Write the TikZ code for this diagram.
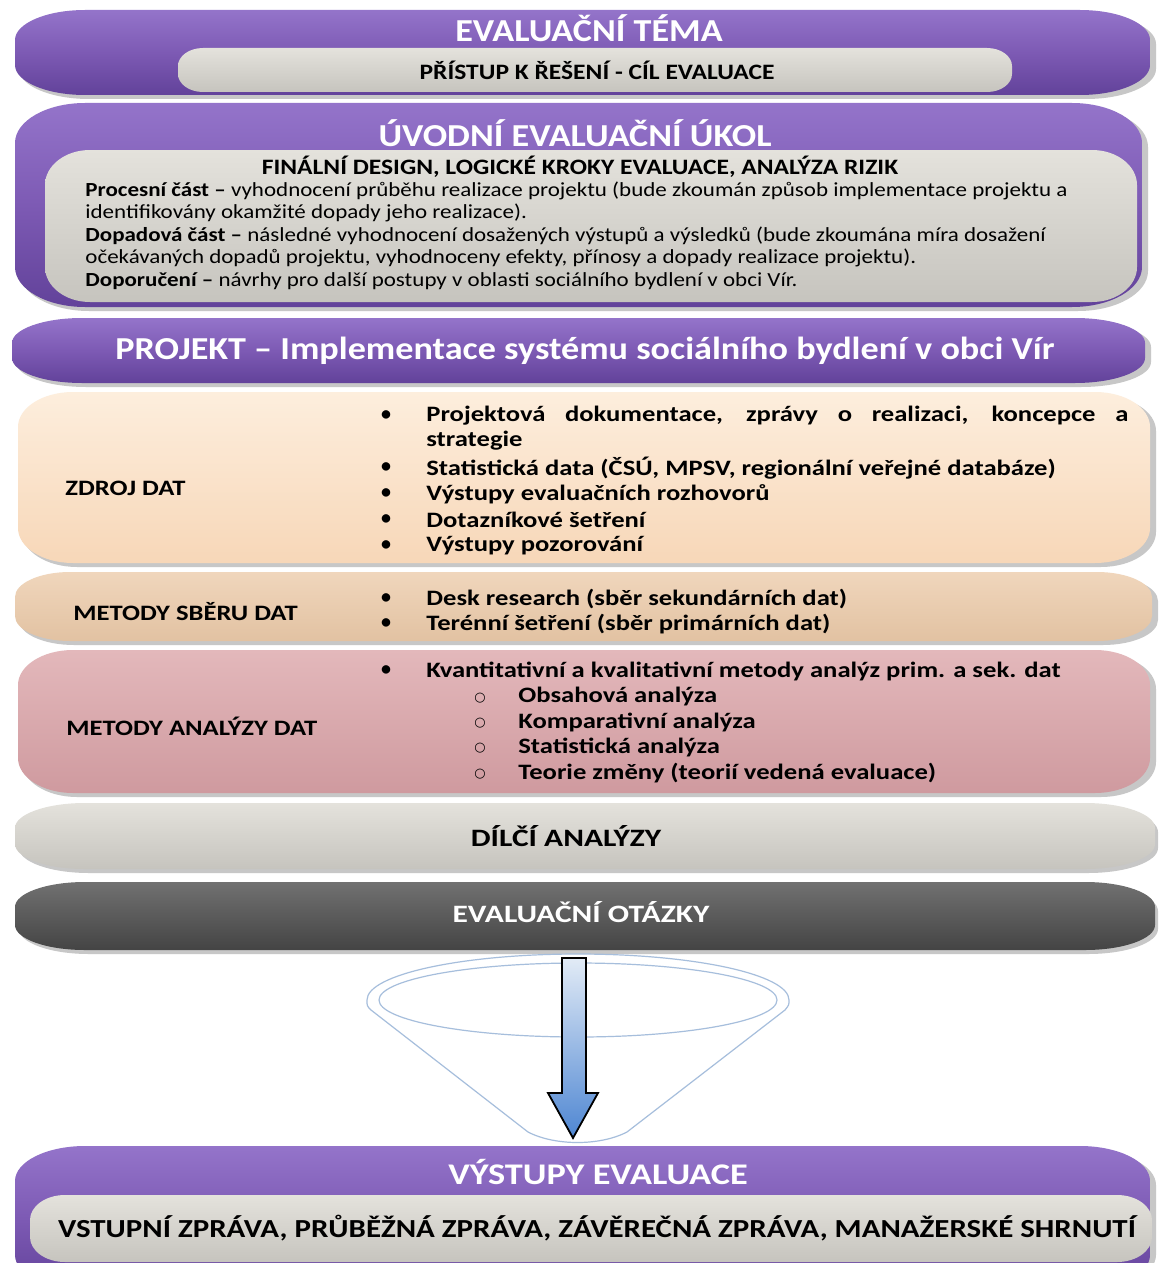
\documentclass[tikz,border=0pt]{standalone}
\usepackage{fontspec}
\setmainfont{Carlito}
\newfontfamily\symfont{DejaVu Sans}
\newfontfamily\sA{Carlito}[FakeStretch=1.13]
\newfontfamily\sAb{Carlito}[FakeStretch=1.15]
\newfontfamily\sB{Carlito}[FakeStretch=1.16]
\newfontfamily\sE{Carlito}[FakeStretch=1.19]
\newfontfamily\sC{Carlito}[FakeStretch=1.21]
\newfontfamily\sD{Carlito}[FakeStretch=1.26]
\usetikzlibrary{calc}
\definecolor{purpTop}{HTML}{9474CA}
\definecolor{purpMid}{HTML}{7D5AB4}
\definecolor{purpBot}{HTML}{62429A}
\definecolor{grayTop}{HTML}{E4E2DC}
\definecolor{grayBot}{HTML}{C6C4BE}
\definecolor{peachTop}{HTML}{FDEEDD}
\definecolor{peachBot}{HTML}{F7D7B8}
\definecolor{tanTop}{HTML}{F0D6BC}
\definecolor{tanBot}{HTML}{E2C2A2}
\definecolor{pinkTop}{HTML}{E3B8BB}
\definecolor{pinkBot}{HTML}{CF9A9F}
\definecolor{dgTop}{HTML}{717171}
\definecolor{dgBot}{HTML}{444444}
\definecolor{funnel}{HTML}{A6BEDC}
\definecolor{arrTop}{HTML}{E2EBF6}
\definecolor{arrBot}{HTML}{4E86D2}
% x1 y1 x2 y2 rx ry options  (pixels, y downwards)
\newcommand\drawband[7]{%
  \path[#7] ({#1+#5},{-#2}) -- ({#3-#5},{-#2})
    arc[start angle=90,end angle=0,x radius={#5*0.5pt},y radius={#6*0.5pt}]
    -- ({#3},{-#4+#6})
    arc[start angle=0,end angle=-90,x radius={#5*0.5pt},y radius={#6*0.5pt}]
    -- ({#1+#5},{-#4})
    arc[start angle=270,end angle=180,x radius={#5*0.5pt},y radius={#6*0.5pt}]
    -- ({#1},{-#2-#6})
    arc[start angle=180,end angle=90,x radius={#5*0.5pt},y radius={#6*0.5pt}]
    -- cycle;}
\tikzset{
  shadowfill/.style={fill=black!22},
  purpband/.style={top color=purpTop, bottom color=purpBot, middle color=purpMid},
  grayband/.style={top color=grayTop, bottom color=grayBot},
  wtitle/.style={text=white, font=\sA\bfseries\fontsize{16}{18}\selectfont, inner sep=0pt},
  btitle/.style={text=black, font=\sB\bfseries\fontsize{11}{13}\selectfont, inner sep=0pt},
  body/.style={text=black, font=\sAb\fontsize{10}{12}\selectfont, anchor=west, inner sep=0pt},
  lbl/.style={text=black, font=\sC\bfseries\fontsize{11}{13}\selectfont, anchor=west, inner sep=0pt},
  bul/.style={text=black, font=\sC\bfseries\fontsize{11}{13}\selectfont, anchor=west, inner sep=0pt},
  bdot/.style={text=black, font=\bfseries\fontsize{10}{12}\selectfont, inner sep=0pt},
  cdot/.style={text=black, font=\symfont\fontsize{6.5}{9}\selectfont, inner sep=0pt},
}
\begin{document}
\begin{tikzpicture}[x=0.5pt,y=0.5pt]
\useasboundingbox (0,0) rectangle (1158,-1263);
\fill[white] (0,0) rectangle (1158,-1263);

% ---------- band 1
\drawband{19}{14}{1156}{99}{70}{30}{shadowfill}
\drawband{15}{10}{1150}{95}{70}{30}{purpband}
\drawband{178}{48}{1012}{92}{25}{18}{grayband}
\node[wtitle] (t1) at (589,-28) {EVALUAČNÍ TÉMA};
\node[btitle] (s1) at (597,-70) {PŘÍSTUP K ŘEŠENÍ - CÍL EVALUACE};

% ---------- band 2
\drawband{19}{107}{1148}{311}{70}{40}{shadowfill}
\drawband{15}{103}{1142}{307}{70}{40}{purpband}
\drawband{45}{150}{1137}{302}{45}{35}{grayband}
\node[wtitle] (t2) at (575,-133) {ÚVODNÍ EVALUAČNÍ ÚKOL};
\node[btitle] (s2) at (580,-167) {FINÁLNÍ DESIGN, LOGICKÉ KROKY EVALUACE, ANALÝZA RIZIK};
\node[body] (b1) at (85,-191) {\textbf{Procesní část –} vyhodnocení průběhu realizace projektu (bude zkoumán způsob implementace projektu a};
\node[body] (b2) at (85,-213) {identifikovány okamžité dopady jeho realizace).};
\node[body] (b3) at (85,-236) {\textbf{Dopadová část –} následné vyhodnocení dosažených výstupů a výsledků (bude zkoumána míra dosažení};
\node[body] (b4) at (85,-258) {očekávaných dopadů projektu, vyhodnoceny efekty, přínosy a dopady realizace projektu).};
\node[body] (b5) at (85,-281) {\textbf{Doporučení –} návrhy pro další postupy v oblasti sociálního bydlení v obci Vír.};

% ---------- band 3
\drawband{16}{322}{1151}{387}{70}{25}{shadowfill}
\drawband{12}{318}{1145}{383}{70}{25}{purpband}
\node[wtitle] (t3) at (585,-351) {PROJEKT – Implementace systému sociálního bydlení v obci Vír};

% ---------- ZDROJ DAT
\drawband{22}{396}{1156}{567}{55}{35}{shadowfill}
\drawband{18}{392}{1150}{563}{55}{35}{top color=peachTop, bottom color=peachBot}
\node[lbl] (l1) at (65,-488) {ZDROJ DAT};
\foreach \yy [count=\i] in {416,468,494,520,546}{
  \node[bdot] (zd\i) at (386,-\yy) {•};
}
\node[bul] (z1) at (426,-416) {\makebox[351pt][s]{Projektová dokumentace, zprávy o realizaci, koncepce a}};
\node[bul] (z1b) at (426,-441) {strategie};
\node[bul] (z2) at (426,-468) {Statistická data (ČSÚ, MPSV, regionální veřejné databáze)};
\node[bul] (z3) at (426,-494) {Výstupy evaluačních rozhovorů};
\node[bul] (z4) at (426,-520) {Dotazníkové šetření};
\node[bul] (z5) at (426,-546) {Výstupy pozorování};

% ---------- METODY SBĚRU DAT
\drawband{19}{576}{1158}{645}{55}{25}{shadowfill}
\drawband{15}{572}{1152}{641}{55}{25}{top color=tanTop, bottom color=tanBot}
\node[lbl] (l2) at (73,-612) {METODY SBĚRU DAT};
\node[bdot] (sd1) at (386,-599) {•};
\node[bdot] (sd2) at (386,-624) {•};
\node[bul] (s21) at (426,-599) {Desk research (sběr sekundárních dat)};
\node[bul] (s22) at (426,-624) {Terénní šetření (sběr primárních dat)};

% ---------- METODY ANALÝZY DAT
\drawband{22}{654}{1156}{797}{55}{35}{shadowfill}
\drawband{18}{650}{1150}{793}{55}{35}{top color=pinkTop, bottom color=pinkBot}
\node[lbl] (l3) at (66,-726) {METODY ANALÝZY DAT};
\node[bdot] (ad1) at (386,-671) {•};
\node[bul] (a1) at (426,-671) {Kvantitativní a kvalitativní metody analýz prim. a sek. dat};
\foreach \yy/\tx [count=\i] in {697/Obsahová analýza,722/Komparativní analýza,747/Statistická analýza,773/Teorie změny (teorií vedená evaluace)}{
  \node[cdot] (ac\i) at (480,-\yy-1) {○};
  \node[bul] (a2\i) at (518,-\yy) {\tx};
}

% ---------- DÍLČÍ ANALÝZY
\drawband{19}{807}{1158}{873}{70}{25}{shadowfill}
\drawband{15}{803}{1155}{869}{70}{25}{grayband}
\node[text=black, font=\sD\bfseries\fontsize{12.5}{15}\selectfont, inner sep=0pt] (t4) at (566,-836) {DÍLČÍ ANALÝZY};

% ---------- EVALUAČNÍ OTÁZKY
\drawband{19}{886}{1158}{954}{70}{25}{shadowfill}
\drawband{15}{882}{1155}{950}{70}{25}{top color=dgTop, bottom color=dgBot}
\node[text=white, font=\sD\bfseries\fontsize{12.5}{15}\selectfont, inner sep=0pt] (t5) at (581,-912) {EVALUAČNÍ OTÁZKY};

% ---------- funnel
\draw[funnel, line width=0.6pt] (367,-1000) arc[start angle=180,end angle=0,x radius=105.5pt,y radius=23pt]
  .. controls (789,-1005) .. (785,-1010) -- (627,-1132)
  .. controls (600,-1146) and (555,-1146) .. (528,-1132)
  -- (371,-1010) .. controls (367,-1006) .. (367,-1000);
\draw[funnel, line width=0.6pt] (578,-1000) ellipse[x radius=99.5pt, y radius=18.5pt];
\path[draw=black, line width=0.9pt, line join=miter, top color=arrTop, bottom color=arrBot]
  (562,-958) -- (586,-958) -- (586,-1093) -- (598,-1093) -- (573,-1138)
  -- (548,-1093) -- (562,-1093) -- cycle;

% ---------- VÝSTUPY EVALUACE
\drawband{19}{1150}{1156}{1290}{70}{35}{shadowfill}
\drawband{15}{1146}{1150}{1290}{70}{35}{purpband}
\drawband{30}{1195}{1152}{1262}{35}{25}{grayband}
\node[wtitle, font=\sC\bfseries\fontsize{15}{17}\selectfont] (t6) at (598,-1172) {VÝSTUPY EVALUACE};
\node[text=black, font=\sE\bfseries\fontsize{13}{15}\selectfont, inner sep=0pt] (s6) at (597,-1228) {VSTUPNÍ ZPRÁVA, PRŮBĚŽNÁ ZPRÁVA, ZÁVĚREČNÁ ZPRÁVA, MANAŽERSKÉ SHRNUTÍ};
\end{tikzpicture}
\end{document}
